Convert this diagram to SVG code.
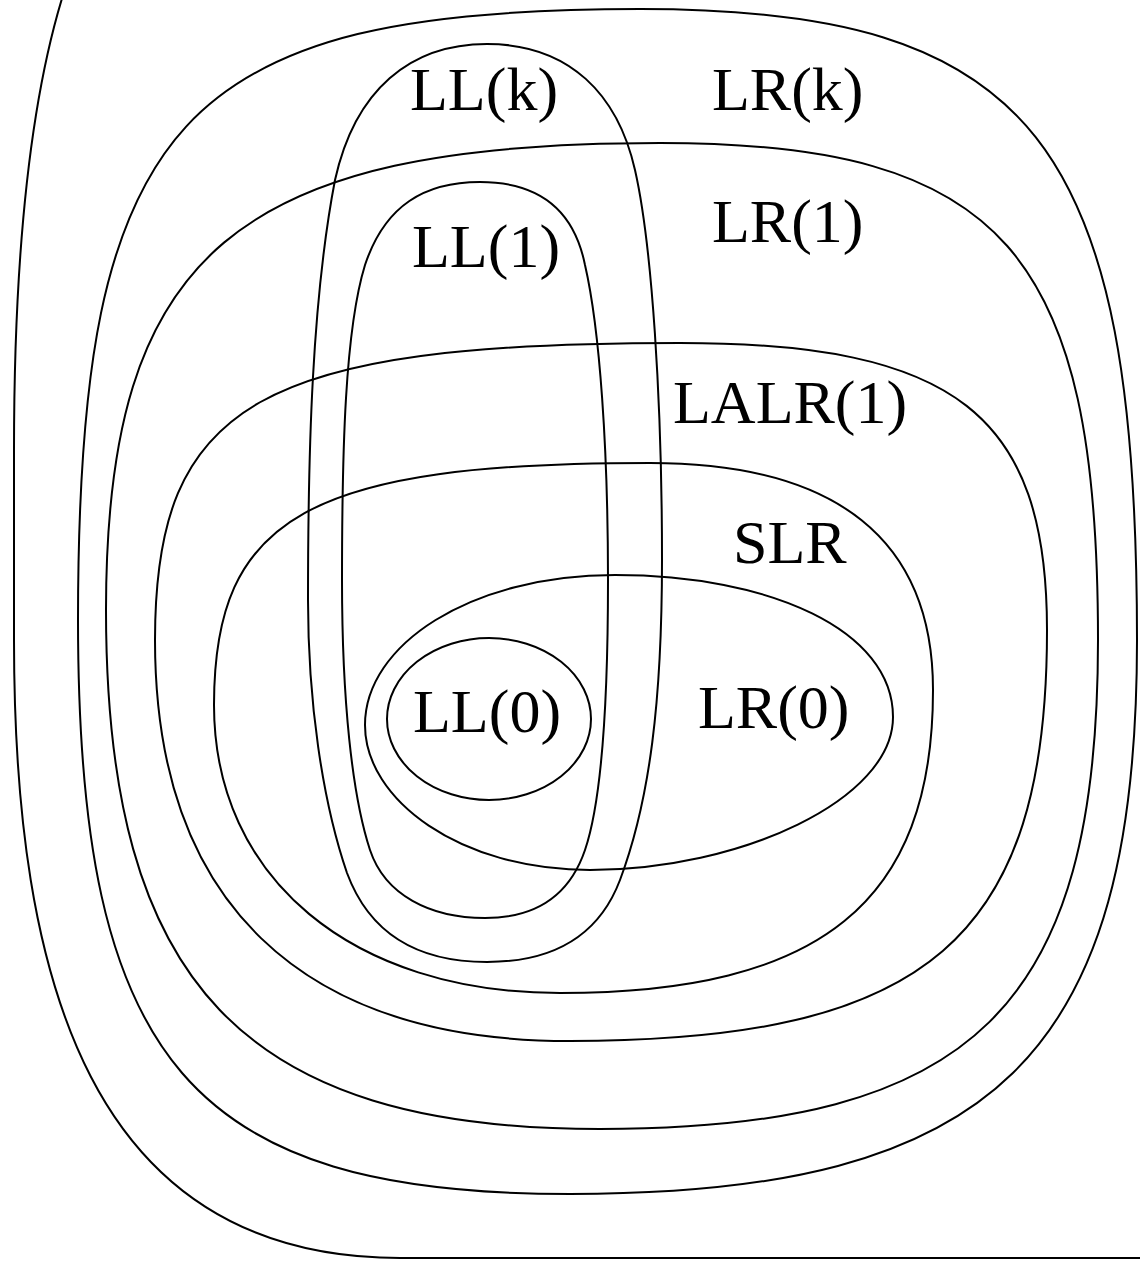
<svg xmlns="http://www.w3.org/2000/svg" width="1140" height="1261" viewBox="0 0 1140 1261">
<style>
.s{fill:none;stroke:#000;stroke-width:2}
.t{font-family:"Liberation Serif","Times New Roman",serif;font-size:62px;fill:#000}
</style>
<rect width="1140" height="1261" fill="#fff"/>
<g id="outer"><path class="s" d="M 64,-8 C 30,100 14,250 14,450 L 14,640 C 14,980 90,1258 400,1258 L 1150,1258"/></g>
<g id="LRk"><path class="s" d="M 640,9 C 1033,9 1137,141 1137,640 C 1137,1056 995,1194 570,1194 C 191,1194 78,1062 78,620 C 78,119 179,9 640,9 Z"/><text class="t" x="712" y="110">LR(k)</text></g>
<g id="LR1"><path class="s" d="M 660,143 C 1002,143 1098,252 1098,640 C 1098,1007 974,1129 600,1129 C 244,1129 106,984 106,610 C 106,253 236,143 660,143 Z"/><text class="t" x="712" y="242">LR(1)</text></g>
<g id="LALR1"><path class="s" d="M 680,343 C 955,343 1047,415 1047,630 C 1047,938 928,1041 570,1041 C 300,1041 155,901 155,640 C 155,402 260,343 680,343 Z"/><text class="t" x="673" y="423">LALR(1)</text></g>
<g id="SLR"><path class="s" d="M 650,463 C 837,463 933,540 933,690 C 933,902 821,993 560,993 C 352,993 214,878 214,705 C 214,516 310,463 650,463 Z"/><text class="t" x="733" y="563">SLR</text></g>
<g id="LR0"><path class="s" d="M 615,575 C 770,575 893,630 893,717 C 893,800 740,870 590,870 C 460,870 365,800 365,725 C 365,645 470,575 615,575 Z"/><text class="t" x="698" y="728">LR(0)</text></g>
<g id="LLk"><path class="s" d="M 487,44 C 570,44 618,95 635,170 C 652,245 662,400 662,560 C 662,700 650,800 620,880 C 598,938 550,962 487,962 C 420,962 370,935 347,873 C 322,800 308,700 308,600 C 308,450 312,300 335,180 C 355,90 410,44 487,44 Z"/><text class="t" x="410" y="110">LL(k)</text></g>
<g id="LL1"><path class="s" d="M 480,182 C 545,182 575,215 585,265 C 600,330 608,450 608,580 C 608,700 602,800 585,850 C 568,900 530,918 485,918 C 430,918 385,895 370,850 C 352,795 342,700 342,580 C 342,450 345,330 365,265 C 385,205 425,182 480,182 Z"/><text class="t" x="412" y="267">LL(1)</text></g>
<g id="LL0"><ellipse class="s" cx="489" cy="719" rx="102" ry="81"/><text class="t" x="413" y="732">LL(0)</text></g>
<g id="connectors"></g>
</svg>
